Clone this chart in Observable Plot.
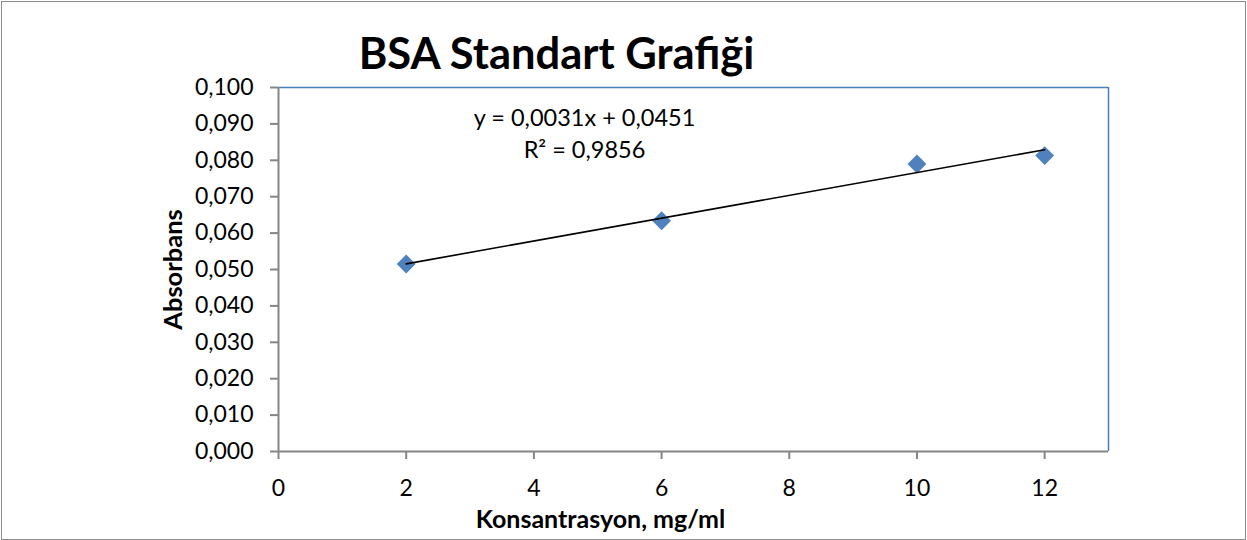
<!DOCTYPE html>
<html>
<head>
<meta charset="utf-8">
<script src="https://cdn.jsdelivr.net/npm/d3@7"></script>
<script src="https://cdn.jsdelivr.net/npm/@observablehq/plot@0.6"></script>
<style>
  html, body { margin: 0; padding: 0; background: #fff; }
  #wrap { position: relative; width: 1247px; height: 540px; }
  #border { position: absolute; left: 1px; top: 1px; width: 1243px; height: 537px; border: 1.5px solid #8c8c8c; pointer-events: none; }
</style>
</head>
<body>
<div id="wrap"><div id="chart"></div><div id="border"></div></div>
<script>
const concentrations = [2, 6, 10, 12];
const absorbance = [0.0515, 0.0634, 0.0790, 0.0813];
const xTicks = [0, 2, 4, 6, 8, 10, 12];
const yTicks = [0, 0.01, 0.02, 0.03, 0.04, 0.05, 0.06, 0.07, 0.08, 0.09, 0.1];
const title = "BSA Standart Grafiği";
const xLabel = "Konsantrasyon, mg/ml";
const yLabel = "Absorbans";
const equationLines = ["y = 0,0031x + 0,0451", "R² = 0,9856"];

const data = concentrations.map((x, i) => ({x, y: absorbance[i]}));
const fmt = d3.formatLocale({decimal: ",", thousands: ".", grouping: [3], currency: ["", ""]}).format(".3f");

const font = "Lato, 'Open Sans', sans-serif";
const gray = "#868686";
const blue = "#4A7EBB";

const chart = Plot.plot({
  width: 1247,
  height: 540,
  marginLeft: 278,
  marginRight: 139,
  marginTop: 87,
  marginBottom: 89,
  style: {fontFamily: font, background: "white", color: "black"},
  x: {domain: [0, 13]},
  y: {domain: [0, 0.1]},
  marks: [
    Plot.ruleY([0.1], {stroke: blue, strokeWidth: 1.5}),
    Plot.ruleX([13], {stroke: blue, strokeWidth: 1.5}),
    Plot.axisX({ticks: xTicks, tickSize: 8, tickPadding: 20, stroke: gray, strokeWidth: 2, fill: "black", fontSize: 23, tickFormat: d => String(d), label: null}),
    Plot.axisY({ticks: yTicks, tickSize: 8, tickPadding: 17, stroke: gray, strokeWidth: 2, fill: "black", fontSize: 23, tickFormat: fmt, label: null}),
    Plot.ruleX([0], {stroke: gray, strokeWidth: 2}),
    Plot.ruleY([0], {stroke: gray, strokeWidth: 2}),
    Plot.dot(data, {x: "x", y: "y", symbol: "diamond2", r: 8.5, fill: "#4F81BD", stroke: "none"}),
    Plot.linearRegressionY(data, {x: "x", y: "y", stroke: "black", strokeWidth: 1.6, ci: 0}),
    Plot.text([title], {text: d => d, frameAnchor: "top-left", dx: 278, dy: -32, lineAnchor: "middle", textAnchor: "middle", fontSize: 43.5, fontWeight: "bold", fill: "black"}),
    Plot.text([equationLines[0]], {text: d => d, frameAnchor: "top-left", dx: 306, dy: 31, lineAnchor: "middle", textAnchor: "middle", fontSize: 23.5, fill: "black"}),
    Plot.text([equationLines[1]], {text: d => d, frameAnchor: "top-left", dx: 306, dy: 63, lineAnchor: "middle", textAnchor: "middle", fontSize: 23.5, fill: "black"}),
    Plot.text([xLabel], {text: d => d, frameAnchor: "bottom-left", dx: 322, dy: 68, lineAnchor: "middle", textAnchor: "middle", fontSize: 25, fontWeight: "bold", fill: "black"}),
    Plot.text([yLabel], {text: d => d, frameAnchor: "left", dx: -105, rotate: -90, lineAnchor: "middle", textAnchor: "middle", fontSize: 25.5, fontWeight: "bold", fill: "black"})
  ]
});
document.getElementById("chart").appendChild(chart);
</script>
</body>
</html>
